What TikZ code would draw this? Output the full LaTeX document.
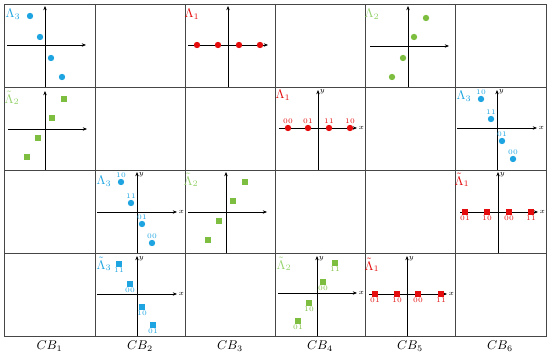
\documentclass[tikz,border=0pt]{standalone}
\usepackage{amsmath}
\usetikzlibrary{arrows.meta,positioning}
\definecolor{GridGray}{RGB}{70,70,70}
\definecolor{PtBlue}{RGB}{30,165,225}
\definecolor{PtRed}{RGB}{228,12,12}
\definecolor{PtGreen}{RGB}{125,190,65}
\definecolor{LabGreen}{RGB}{150,210,110}

\begin{document}
\begin{tikzpicture}[x=0.025cm,y=-0.025cm,
    cell/.style={draw=GridGray,line width=0.7pt},
    axis/.style={-{Stealth[length=3pt,width=2.4pt]},line width=0.45pt},
    dotpt/.style={circle,inner sep=0pt,minimum size=0.16cm},
    sqpt/.style={rectangle,inner sep=0pt,minimum size=0.13cm},
    bits/.style={font=\fontsize{5}{6}\selectfont,inner sep=0.6pt},
    lam/.style={font=\small,inner sep=0pt},
    axlab/.style={font=\fontsize{5}{5}\selectfont,inner sep=1pt}
  ]
    \useasboundingbox (0,0) rectangle (550,353);

    % grid of cells
    \draw[cell] (4,4) rectangle (546,336);
    \foreach \x in {95,185,275,365,455} \draw[cell] (\x,4) -- (\x,336);
    \foreach \y in {87,170,253} \draw[cell] (4,\y) -- (546,\y);

    % row 1
    \node[lam,text=PtBlue] (a_lab) at (13,14) {$\Lambda_3$};
    \draw[axis] (7,45) -- (86,45); \draw[axis] (45,87) -- (45,6);
    \foreach \px/\py [count=\i] in {30/16,40/37,51/58,62/77}
      \node[dotpt,fill=PtBlue] (a\i) at (\px,\py) {};

    \node[lam,text=PtRed] (b_lab) at (192,14) {$\Lambda_1$};
    \draw[axis] (188,45) -- (268,45); \draw[axis] (228,87) -- (228,6);
    \foreach \px [count=\i] in {197,218,239,260}
      \node[dotpt,fill=PtRed] (b\i) at (\px,45) {};

    \node[lam,text=LabGreen] (c_lab) at (372,14) {$\Lambda_2$};
    \draw[axis] (370,46) -- (449,46); \draw[axis] (408,87) -- (408,6);
    \foreach \px/\py [count=\i] in {426/18,414/37,403/58,392/77}
      \node[dotpt,fill=PtGreen] (c\i) at (\px,\py) {};

    % row 2
    \node[lam,text=LabGreen] (d_lab) at (12,98) {$\tilde{\Lambda}_2$};
    \draw[axis] (8,129) -- (87,129); \draw[axis] (45,170) -- (45,91);
    \foreach \px/\py [count=\i] in {64/99,52/118,38/138,27/157}
      \node[sqpt,fill=PtGreen] (d\i) at (\px,\py) {};

    \node[lam,text=PtRed] (e_lab) at (283,95) {$\Lambda_1$};
    \draw[axis] (279,128) -- (357,128); \draw[axis] (318,170) -- (318,90);
    \node[axlab,right] (e_x) at (357,128) {$x$};
    \node[axlab,right] (e_y) at (318,92) {$y$};
    \foreach \px/\b [count=\i] in {288/00,308/01,329/11,350/10}
      \node[dotpt,fill=PtRed,label={[bits,text=PtRed]above:\b}] (e\i) at (\px,128) {};

    \node[lam,text=PtBlue] (f_lab) at (464,96) {$\Lambda_3$};
    \draw[axis] (457,128) -- (537,128); \draw[axis] (497,170) -- (497,90);
    \node[axlab,right] (f_x) at (537,128) {$x$};
    \node[axlab,right] (f_y) at (497,92) {$y$};
    \foreach \px/\py/\b [count=\i] in {481/99/10,491/119/11,502/141/01,513/159/00}
      \node[dotpt,fill=PtBlue,label={[bits,text=PtBlue]above:\b}] (f\i) at (\px,\py) {};

    % row 3
    \node[lam,text=PtBlue] (g_lab) at (104,181) {$\Lambda_3$};
    \draw[axis] (97,212) -- (177,212); \draw[axis] (137,253) -- (137,172);
    \node[axlab,right] (g_x) at (177,212) {$x$};
    \node[axlab,right] (g_y) at (137,175) {$y$};
    \foreach \px/\py/\b [count=\i] in {121/182/10,131/203/11,142/224/01,152/243/00}
      \node[dotpt,fill=PtBlue,label={[bits,text=PtBlue]above:\b}] (g\i) at (\px,\py) {};

    \node[lam,text=LabGreen] (h_lab) at (191,180) {$\tilde{\Lambda}_2$};
    \draw[axis] (188,212) -- (267,212); \draw[axis] (226,253) -- (226,172);
    \foreach \px/\py [count=\i] in {245/182,233/201,219/221,208/240}
      \node[sqpt,fill=PtGreen] (h\i) at (\px,\py) {};

    \node[lam,text=PtRed] (i_lab) at (462,180) {$\tilde{\Lambda}_1$};
    \draw[axis] (460,212) -- (538,212); \draw[axis] (498,253) -- (498,172);
    \node[axlab,right] (i_x) at (538,212) {$x$};
    \node[axlab,right] (i_y) at (498,175) {$y$};
    \foreach \px/\b [count=\i] in {465/01,487/10,509/00,531/11}
      \node[sqpt,fill=PtRed,label={[bits,text=PtRed]below:\b}] (i\i) at (\px,212) {};

    % row 4
    \node[lam,text=PtBlue] (j_lab) at (104,264) {$\tilde{\Lambda}_3$};
    \draw[axis] (97,294) -- (177,294); \draw[axis] (137,336) -- (137,256);
    \node[axlab,right] (j_x) at (177,294) {$x$};
    \node[axlab,right] (j_y) at (137,259) {$y$};
    \foreach \px/\py/\b [count=\i] in {119/264/11,130/284/00,142/307/10,153/325/01}
      \node[sqpt,fill=PtBlue,label={[bits,text=PtBlue]below:\b}] (j\i) at (\px,\py) {};

    \node[lam,text=LabGreen] (k_lab) at (284,264) {$\tilde{\Lambda}_2$};
    \draw[axis] (278,293) -- (357,293); \draw[axis] (317,336) -- (317,256);
    \node[axlab,right] (k_x) at (357,293) {$x$};
    \node[axlab,right] (k_y) at (317,259) {$y$};
    \foreach \px/\py/\b [count=\i] in {335/263/11,323/282/00,309/303/10,298/321/01}
      \node[sqpt,fill=PtGreen,label={[bits,text=PtGreen]below:\b}] (k\i) at (\px,\py) {};

    \node[lam,text=PtRed] (l_lab) at (372,265) {$\tilde{\Lambda}_1$};
    \draw[axis] (369,294) -- (447,294); \draw[axis] (407,336) -- (407,256);
    \node[axlab,right] (l_x) at (447,294) {$x$};
    \node[axlab,right] (l_y) at (407,259) {$y$};
    \foreach \px/\b [count=\i] in {375/01,397/10,418/00,441/11}
      \node[sqpt,fill=PtRed,label={[bits,text=PtRed]below:\b}] (l\i) at (\px,294) {};

    % column captions
    \foreach \cx [count=\i] in {49.5,140,230,320,410,500}
      \node[font=\small] (cb\i) at (\cx,346) {$CB_{\i}$};
\end{tikzpicture}
\end{document}
